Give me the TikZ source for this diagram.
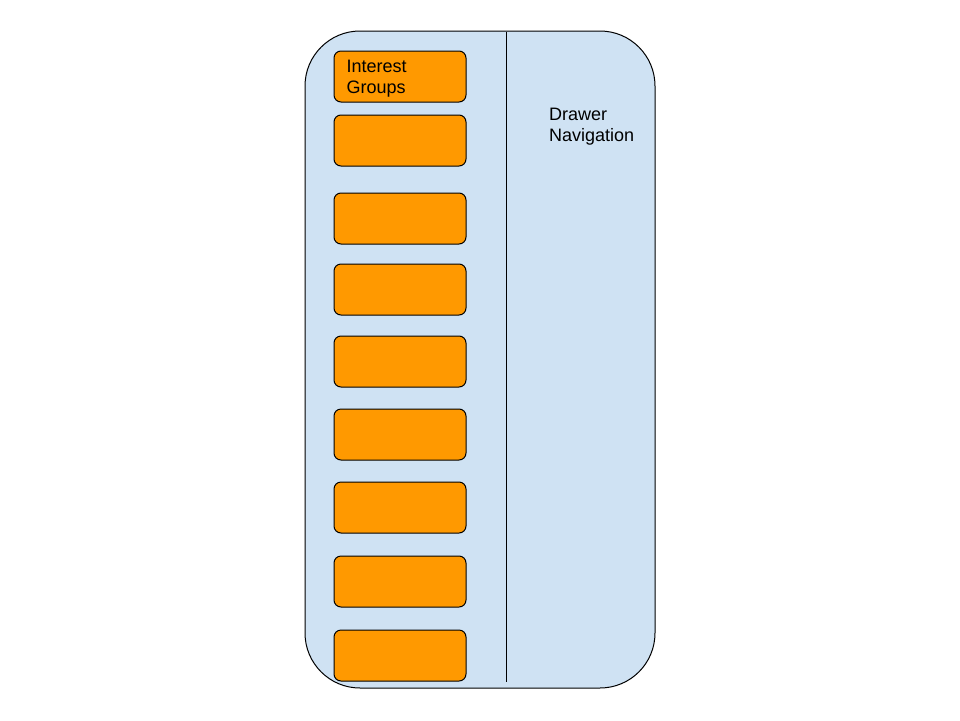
\documentclass[tikz,border=0pt]{standalone}
\usepackage{fontspec}
\setmainfont{Liberation Sans}
\definecolor{paneblue}{HTML}{CFE2F3}
\definecolor{itemorange}{HTML}{FF9900}
\begin{document}
\begin{tikzpicture}[x=1pt,y=-1pt,
  pane/.style={draw=black,line width=1pt,fill=paneblue,rounded corners=55pt,
    minimum width=350pt,minimum height=657pt,inner sep=0pt},
  itembox/.style={draw=black,line width=1pt,fill=itemorange,rounded corners=7pt,
    minimum width=132pt,minimum height=51pt,inner sep=0pt},
  lbl/.style={anchor=north west,inner sep=0pt,align=left,
    font=\fontsize{18pt}{21pt}\selectfont}]
\useasboundingbox (0,0) rectangle (960,720);
\node[pane] (phone) at (480,359.5) {};
\coordinate (divtop) at (506,32);
\coordinate (divbot) at (506,682);
\draw[line width=1pt] (divtop) -- (divbot);
\foreach \t [count=\i] in {51,115,193,264,336,409,482,556,630}{
  \node[itembox] (item\i) at (400,\t+25.5) {};
}
\node[lbl] (ig) at (346.5,60.4) {Interest\\Groups};
\node[lbl] (dn) at (549,107.5) {Drawer\\Navigation};
\end{tikzpicture}
\end{document}
